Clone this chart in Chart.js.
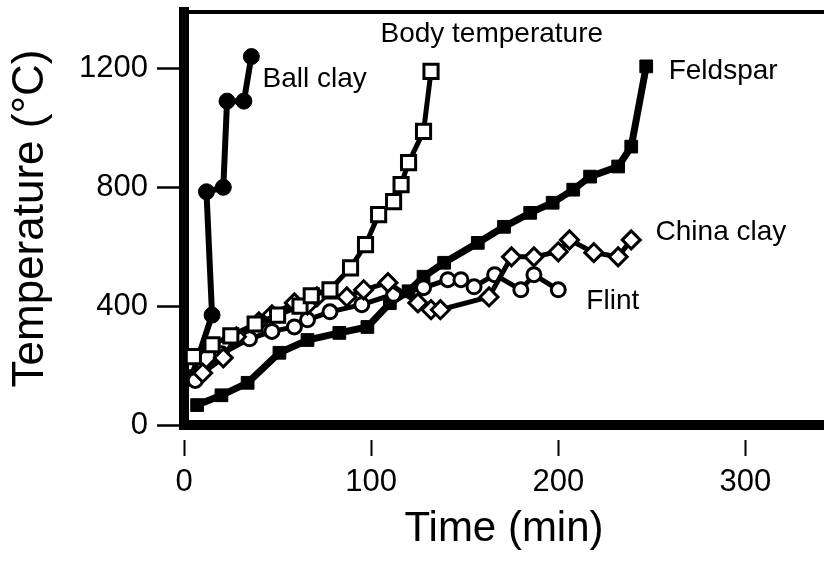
<!DOCTYPE html>
<html>
<head>
<meta charset="utf-8">
<script src="https://cdn.jsdelivr.net/npm/chart.js@4/dist/chart.umd.min.js"></script>
<style>
  html, body { margin: 0; padding: 0; background: #fff; overflow: hidden; }
  canvas { display: block; }
</style>
</head>
<body>
<canvas id="chart" width="824" height="573"></canvas>
<script>
"use strict";

// time (min) and temperature (°C)
const ballClayX = [4, 15, 12, 21, 23, 32, 36];
const ballClayY = [160, 370, 785, 800, 1090, 1090, 1240];

const bodyTempX = [5, 15, 25, 38, 50, 62, 68, 78, 89, 97, 104, 112, 116, 120, 128, 132];
const bodyTempY = [230, 270, 300, 340, 370, 400, 435, 455, 529, 607, 708, 752, 809, 883, 988, 1190];

const feldsparX = [7, 20, 34, 51, 66, 83, 98, 110, 120, 128, 139, 157, 171, 185, 197, 208, 217, 232, 239, 247];
const feldsparY = [67, 100, 142, 243, 286, 310, 330, 410, 450, 499, 546, 613, 667, 714, 748, 792, 836, 870, 937, 1207];

const chinaClayX = [10, 21, 28, 40, 47, 59, 66, 71, 87, 96, 109, 125, 132, 137, 163, 175, 187, 200, 206, 219, 232, 239];
const chinaClayY = [175, 226, 297, 347, 371, 411, 404, 431, 431, 455, 479, 411, 388, 388, 431, 566, 566, 583, 623, 580, 566, 623];

const flintX = [6, 20, 35, 47, 59, 66, 78, 95, 112, 128, 141, 148, 155, 166, 180, 187, 200];
const flintY = [150, 240, 290, 315, 330, 354, 381, 405, 440, 462, 489, 489, 465, 506, 455, 506, 455];

const xTicks = [0, 100, 200, 300];
const yTicks = [0, 400, 800, 1200];

// series names written next to the curves, anchored in data units
const labelText = ["Body temperature", "Ball clay", "Feldspar", "China clay", "Flint"];
const labelX = [105, 42, 259, 252, 215];
const labelY = [1315, 1163, 1190, 650, 415];

function pts(xs, ys) {
    return xs.map((x, i) => ({ x: x, y: ys[i] }));
}

// fixed box sizes, and no extra room kept for tick labels at the ends
function fixBox(w, h) {
    return (s) => {
        if (w !== null) s.width = w;
        if (h !== null) s.height = h;
        s.paddingTop = 0;
        s.paddingBottom = 0;
        s.paddingLeft = 0;
        s.paddingRight = 0;
    };
}

const ink = "#000";
const face = "Liberation Sans, Arial, Helvetica, sans-serif";

const curveLabels = {
    id: "curveLabels",
    afterDatasetsDraw(chart) {
        const ctx = chart.ctx;
        const sx = chart.scales.x, sy = chart.scales.y;
        ctx.save();
        ctx.fillStyle = ink;
        ctx.font = "28px " + face;
        ctx.textAlign = "left";
        ctx.textBaseline = "middle";
        labelText.forEach((t, i) => {
            ctx.fillText(t, sx.getPixelForValue(labelX[i]), sy.getPixelForValue(labelY[i]));
        });
        ctx.restore();
    }
};

new Chart(document.getElementById("chart"), {
    type: "scatter",
    data: {
        datasets: [
            {
                label: "Body temperature",
                data: pts(bodyTempX, bodyTempY),
                showLine: true,
                borderColor: ink,
                borderWidth: 5,
                pointStyle: "rect",
                pointRadius: 10,
                pointBorderWidth: 3,
                pointBackgroundColor: "#fff",
                pointBorderColor: ink
            },
            {
                label: "China clay",
                data: pts(chinaClayX, chinaClayY),
                showLine: true,
                borderColor: ink,
                borderWidth: 5,
                pointStyle: "rectRot",
                pointRadius: 9,
                pointBorderWidth: 3,
                pointBackgroundColor: "#fff",
                pointBorderColor: ink
            },
            {
                label: "Flint",
                data: pts(flintX, flintY),
                showLine: true,
                borderColor: ink,
                borderWidth: 5,
                pointStyle: "circle",
                pointRadius: 7,
                pointBorderWidth: 3,
                pointBackgroundColor: "#fff",
                pointBorderColor: ink
            },
            {
                label: "Feldspar",
                data: pts(feldsparX, feldsparY),
                showLine: true,
                borderColor: ink,
                borderWidth: 7,
                pointStyle: "rect",
                pointRadius: 9,
                pointBorderWidth: 1,
                pointBackgroundColor: ink,
                pointBorderColor: ink
            },
            {
                label: "Ball clay",
                data: pts(ballClayX, ballClayY),
                showLine: true,
                borderColor: ink,
                borderWidth: 6,
                pointStyle: "circle",
                pointRadius: 8,
                pointBorderWidth: 1,
                pointBackgroundColor: ink,
                pointBorderColor: ink
            }
        ]
    },
    options: {
        responsive: false,
        animation: false,
        layout: { padding: 0, autoPadding: false },
        elements: { line: { tension: 0 } },
        plugins: {
            legend: { display: false },
            tooltip: { enabled: false }
        },
        scales: {
            x: {
                type: "linear",
                position: "bottom",
                min: 0,
                max: 342,
                afterFit: fixBox(null, 148),
                afterBuildTicks: (s) => { s.ticks = xTicks.map(v => ({ value: v })); },
                ticks: {
                    color: ink,
                    font: { family: face, size: 31 },
                    padding: 8,
                    callback: (v) => String(v)
                },
                grid: {
                    drawOnChartArea: false,
                    drawTicks: true,
                    tickLength: 31,
                    tickWidth: 2,
                    tickColor: ink,
                    tickBorderDash: [0, 10, 16, 40]
                },
                border: { display: true, color: ink, width: 10 },
                title: {
                    display: true,
                    text: "Time (min)",
                    color: ink,
                    font: { family: face, size: 42 },
                    padding: { top: 0, bottom: 18 }
                }
            },
            xTop: {
                type: "linear",
                position: "top",
                min: 0,
                max: 342,
                afterFit: fixBox(null, 12),
                ticks: { display: false },
                grid: { display: false, drawTicks: false },
                border: { display: true, color: ink, width: 4 }
            },
            y: {
                type: "linear",
                min: 0,
                max: 1390,
                afterFit: fixBox(184, null),
                afterBuildTicks: (s) => { s.ticks = yTicks.map(v => ({ value: v })); },
                ticks: {
                    color: ink,
                    font: { family: face, size: 31 },
                    padding: 9,
                    callback: (v) => String(v)
                },
                grid: {
                    drawOnChartArea: false,
                    drawTicks: true,
                    tickLength: 27,
                    tickWidth: 2.5,
                    tickColor: ink
                },
                border: { display: true, color: ink, width: 10 },
                title: {
                    display: true,
                    text: "Temperature (°C)",
                    color: ink,
                    font: { family: face, size: 44 },
                    padding: { top: 4, bottom: 0 }
                }
            }
        }
    },
    plugins: [curveLabels]
});
</script>
</body>
</html>
